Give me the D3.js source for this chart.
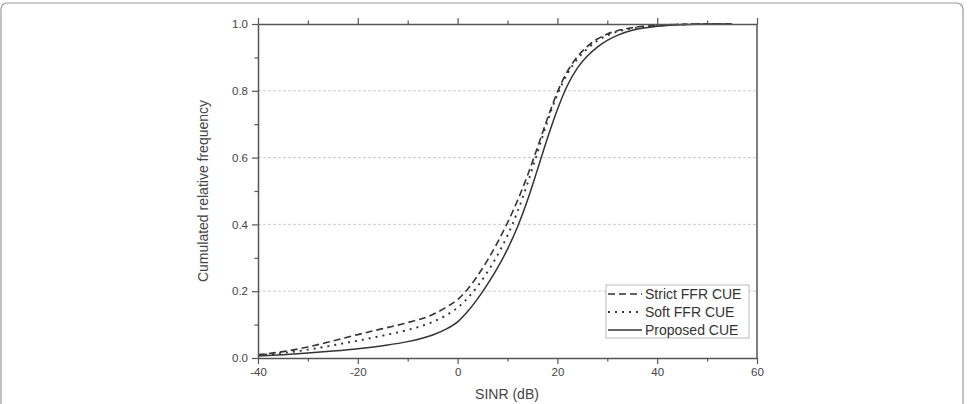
<!DOCTYPE html>
<html><head><meta charset="utf-8">
<script src="https://cdn.jsdelivr.net/npm/d3@7"></script>
<style>html,body{margin:0;padding:0;background:#fff;}svg{display:block;}</style>
</head><body>
<script>
const sinr = [-40,-35,-30,-25,-20,-15,-10,-5,-2.5,0,2,4,6,8,10,12,14,16,18,20,22,24,26,28,30,32,35,40,45,50,55];
const strictFFR = [0.010,0.019,0.033,0.051,0.070,0.088,0.106,0.130,0.150,0.175,0.206,0.246,0.293,0.346,0.405,0.471,0.546,0.630,0.717,0.796,0.858,0.902,0.933,0.955,0.970,0.980,0.989,0.996,0.999,1,1];
const softFFR   = [0.008,0.015,0.025,0.038,0.052,0.067,0.084,0.108,0.126,0.151,0.179,0.215,0.258,0.308,0.367,0.438,0.522,0.615,0.708,0.789,0.851,0.895,0.926,0.950,0.966,0.977,0.987,0.995,0.999,1,1];
const proposed  = [0.006,0.010,0.015,0.021,0.028,0.037,0.049,0.069,0.085,0.108,0.139,0.177,0.221,0.270,0.326,0.392,0.472,0.564,0.658,0.744,0.816,0.868,0.904,0.931,0.951,0.966,0.981,0.993,0.998,1,1];
const seriesNames = ["Strict FFR CUE","Soft FFR CUE","Proposed CUE"];
const xTicks = [-40,-20,0,20,40,60];
const yTicks = [0,0.2,0.4,0.6,0.8,1.0];
const gridTicks = [0.2,0.4,0.6,0.8];

const W=974,H=404;
const svg=d3.select("body").append("svg").attr("width",W).attr("height",H);
svg.append("rect").attr("x",1).attr("y",3).attr("width",962).attr("height",420).attr("rx",6)
  .attr("fill","none").attr("stroke","#999").attr("stroke-width",1.2);

const x=d3.scaleLinear().domain([-40,60]).range([258,757]);
const y=d3.scaleLinear().domain([0,1]).range([358,24]);
const axisCol="#555", txtCol="#444";
const font="Liberation Sans, Arial, sans-serif";

// grid
svg.append("g").selectAll("line").data(gridTicks).join("line")
  .attr("x1",x(-40)).attr("x2",x(60)).attr("y1",d=>y(d)).attr("y2",d=>y(d))
  .attr("stroke","#ccc").attr("stroke-width",1).attr("stroke-dasharray","3,2");

// series
const styles=[{dash:"7,4",w:1.6},{dash:"2,5",w:1.9},{dash:null,w:1.5}];
const data=[strictFFR,softFFR,proposed];
const line=d3.line().x(d=>x(d[0])).y(d=>y(d[1])).curve(d3.curveMonotoneX);
data.forEach((s,i)=>{
  const p=svg.append("path").datum(sinr.map((v,j)=>[v,s[j]])).attr("d",line)
   .attr("fill","none").attr("stroke","#333").attr("stroke-width",styles[i].w);
  if(styles[i].dash) p.attr("stroke-dasharray",styles[i].dash);
});

// axes
function styleAxis(g){
  g.selectAll(".domain").attr("stroke",axisCol).attr("stroke-width",1.5);
  g.selectAll(".tick line").attr("stroke",axisCol).attr("stroke-width",1.2);
  g.selectAll("text").attr("fill",txtCol).attr("font-family",font).attr("font-size",11.5);
}
const minorX=d3.range(-30,60,20), minorY=d3.range(0.1,1,0.2);
const gB=svg.append("g").attr("transform",`translate(0,${y(0)})`)
  .call(d3.axisBottom(x).tickValues(xTicks).tickFormat(d=>String(d)).tickSize(6).tickPadding(4).tickSizeOuter(0));
styleAxis(gB);
svg.append("g").attr("transform",`translate(0,${y(0)})`)
  .call(d3.axisBottom(x).tickValues(minorX).tickFormat("").tickSize(3.5).tickSizeOuter(0))
  .call(g=>{g.select(".domain").remove();g.selectAll("line").attr("stroke",axisCol).attr("stroke-width",1.2);});
const gT=svg.append("g").attr("transform",`translate(0,${y(1)})`)
  .call(d3.axisTop(x).tickValues(xTicks).tickFormat("").tickSize(6).tickSizeOuter(0));
styleAxis(gT);
svg.append("g").attr("transform",`translate(0,${y(1)})`)
  .call(d3.axisTop(x).tickValues(minorX).tickFormat("").tickSize(3.5).tickSizeOuter(0))
  .call(g=>{g.select(".domain").remove();g.selectAll("line").attr("stroke",axisCol).attr("stroke-width",1.2);});
const gL=svg.append("g").attr("transform",`translate(${x(-40)},0)`)
  .call(d3.axisLeft(y).tickValues(yTicks).tickFormat(d3.format(".1f")).tickSize(6).tickPadding(4).tickSizeOuter(0));
styleAxis(gL);
svg.append("g").attr("transform",`translate(${x(-40)},0)`)
  .call(d3.axisLeft(y).tickValues(minorY).tickFormat("").tickSize(3.5).tickSizeOuter(0))
  .call(g=>{g.select(".domain").remove();g.selectAll("line").attr("stroke",axisCol).attr("stroke-width",1.2);});
svg.append("line").attr("x1",x(60)).attr("x2",x(60)).attr("y1",y(0)).attr("y2",y(1))
  .attr("stroke",axisCol).attr("stroke-width",1.5);

// titles
svg.append("text").attr("x",507).attr("y",399).attr("text-anchor","middle")
  .attr("font-family",font).attr("font-size",14).attr("fill",txtCol).text("SINR (dB)");
svg.append("text").attr("transform",`translate(208,${(y(0)+y(1))/2}) rotate(-90)`)
  .attr("text-anchor","middle").attr("font-family",font).attr("font-size",14).attr("fill",txtCol)
  .text("Cumulated relative frequency");

// legend
const lg=svg.append("g");
lg.append("rect").attr("x",606).attr("y",285).attr("width",143).attr("height",53)
  .attr("fill","#fff").attr("stroke","#bbb").attr("stroke-width",1);
seriesNames.forEach((n,i)=>{
  const yy=294+i*18;
  const l=lg.append("line").attr("x1",608).attr("x2",642).attr("y1",yy).attr("y2",yy)
    .attr("stroke","#333").attr("stroke-width",styles[i].w);
  if(styles[i].dash) l.attr("stroke-dasharray",styles[i].dash);
  lg.append("text").attr("x",645).attr("y",yy+5).attr("font-family",font).attr("font-size",14)
    .attr("fill","#333").text(n);
});
</script>
</body></html>
